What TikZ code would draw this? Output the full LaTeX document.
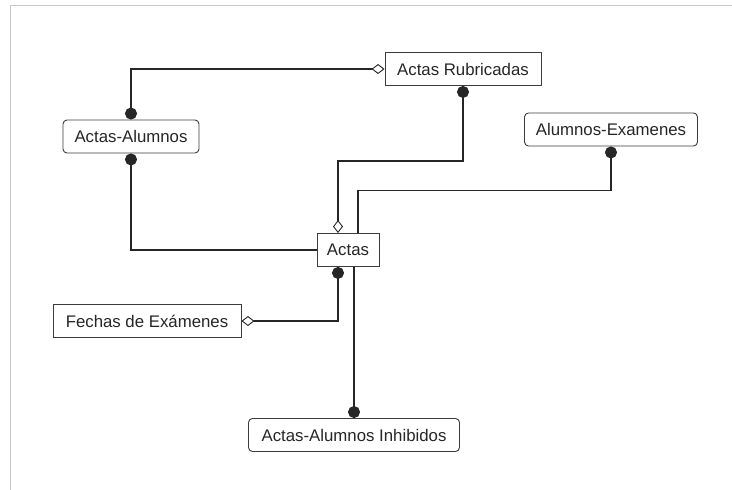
\documentclass[tikz,border=0pt]{standalone}
\usepackage{fontspec}
\setmainfont{Liberation Sans}
\usetikzlibrary{arrows.meta}
\definecolor{boxInk}{RGB}{60,60,60}
\definecolor{frameGray}{RGB}{200,200,200}
\tikzset{
  tbl/.style={draw=boxInk, line width=0.9pt, fill=white, minimum height=33pt, inner sep=0pt, font=\fontsize{16.8}{19}\selectfont, text=black!85},
  roundtbl/.style={tbl, rounded corners=4pt},
  link/.style={line width=1.2pt, draw=black!85},
  dotdot/.style={link, {Circle[length=12pt]}-},
  dotdia/.style={link, {Circle[length=12pt]}-{Diamond[open, fill=white, line width=0.9pt, length=13pt, width=10pt]}},
  todot/.style={link, -{Circle[length=12pt]}}
}
\begin{document}
\begin{tikzpicture}[x=1pt, y=-1pt]
  \useasboundingbox (0,0) rectangle (732,490);
  \draw[frameGray, line width=1pt] (10,490) -- (10,5) -- (732,5);
  % tables
  \node[tbl, minimum width=156pt] (ar) at (463,69) {Actas Rubricadas};
  \node[roundtbl, minimum width=136pt] (aa) at (131,136.5) {Actas-Alumnos};
  \node[roundtbl, minimum width=173pt] (ae) at (611,129.5) {Alumnos-Examenes};
  \node[tbl, minimum width=62pt] (act) at (348,250) {Actas};
  \node[tbl, minimum width=188pt] (fe) at (147,321) {Fechas de Exámenes};
  \node[roundtbl, minimum width=211pt] (ai) at (354,435) {Actas-Alumnos Inhibidos};
  % relations
  \draw[dotdia] (aa.north) |- (ar.west);
  \draw[dotdia] (ar.south) -- ++(0,75) -| ([xshift=-10pt]act.north);
  \draw[dotdot] (ae.south) -- ++(0,44) -| ([xshift=10pt]act.north);
  \draw[dotdot] (aa.south) |- (act.west);
  \draw[dotdia] ([xshift=-10pt]act.south) |- (fe.east);
  \draw[todot] (ai.north |- act.south) -- (ai.north);
\end{tikzpicture}
\end{document}
